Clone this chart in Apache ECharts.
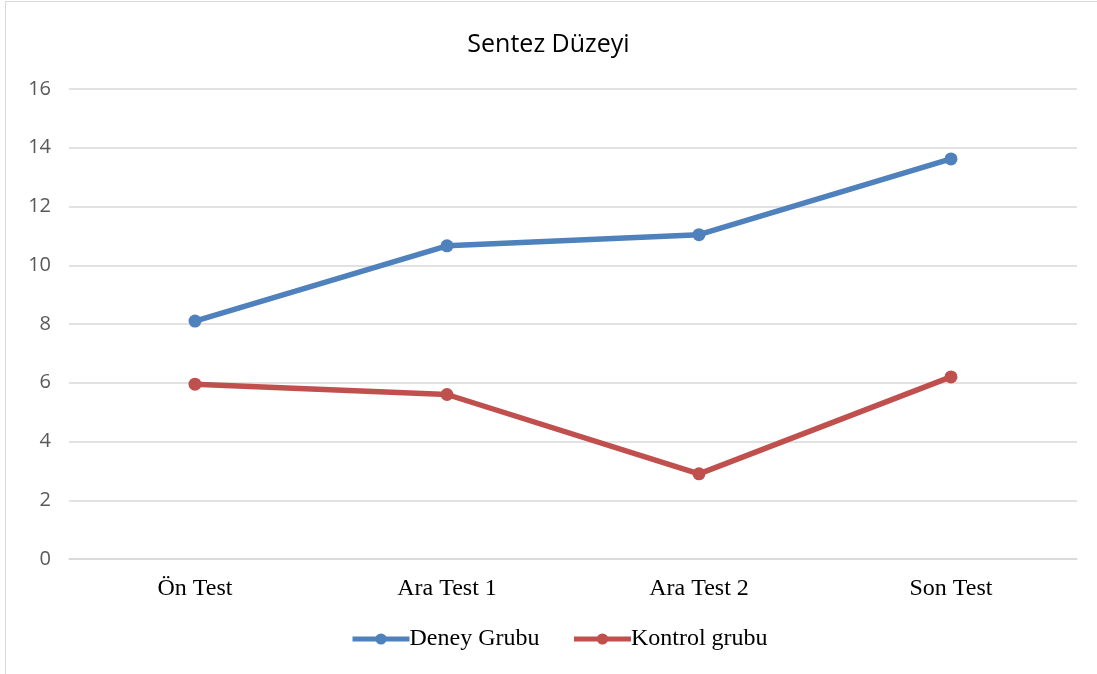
<!DOCTYPE html>
<html>
<head>
<meta charset="utf-8">
<script src="https://cdn.jsdelivr.net/npm/echarts@6/dist/echarts.min.js"></script>
<style>
html,body{margin:0;padding:0;background:#fff;}
#frame{position:absolute;left:5px;top:1px;width:1100px;height:680px;border:1.5px solid #d9d9d9;box-sizing:border-box;}
#chart{position:absolute;left:0;top:0;width:1097px;height:674px;}
</style>
</head>
<body>
<div id="frame"></div>
<div id="chart"></div>
<script>
var title = "Sentez Düzeyi";
var categories = ["Ön Test", "Ara Test 1", "Ara Test 2", "Son Test"];
var deneyName = "Deney Grubu";
var deneyValues = [8.1, 10.66, 11.04, 13.62];
var kontrolName = "Kontrol grubu";
var kontrolValues = [5.95, 5.6, 2.9, 6.2];
var yMin = 0, yMax = 16, yStep = 2;

var chart = echarts.init(document.getElementById('chart'), null, {renderer: 'canvas'});
chart.setOption({
  animation: false,
  backgroundColor: 'transparent',
  title: {
    text: title, left: 'center', top: 27,
    textStyle: {fontFamily: 'Open Sans', fontSize: 25, fontWeight: 'normal', color: '#000'}
  },
  legend: {
    bottom: 18, left: 345, itemWidth: 57, itemHeight: 14, itemGap: 32,
    textStyle: {fontFamily: 'Liberation Serif', fontSize: 24, color: '#000', padding: [0,0,0,-5]},
    lineStyle: {width: 5},
    data: [deneyName, kontrolName]
  },
  grid: {left: 69, right: 20, top: 89, bottom: 115, containLabel: false},
  xAxis: {
    type: 'category', data: categories, boundaryGap: true,
    axisLine: {show: true, lineStyle: {color: '#d9d9d9', width: 1.5}},
    axisTick: {show: false},
    axisLabel: {fontFamily: 'Liberation Serif', fontSize: 24, color: '#000', margin: 18}
  },
  yAxis: {
    type: 'value', min: yMin, max: yMax, interval: yStep,
    axisLine: {show: false}, axisTick: {show: false},
    axisLabel: {fontFamily: 'Open Sans', fontSize: 20, color: '#595959', margin: 18},
    splitLine: {lineStyle: {color: '#d9d9d9', width: 1.5}}
  },
  series: [
    {name: deneyName, type: 'line', data: deneyValues, symbol: 'circle', symbolSize: 13,
     lineStyle: {color: '#4f81bd', width: 5.5}, itemStyle: {color: '#4f81bd'}},
    {name: kontrolName, type: 'line', data: kontrolValues, symbol: 'circle', symbolSize: 13,
     lineStyle: {color: '#c0504d', width: 5.5}, itemStyle: {color: '#c0504d'}}
  ]
});
</script>
</body>
</html>
